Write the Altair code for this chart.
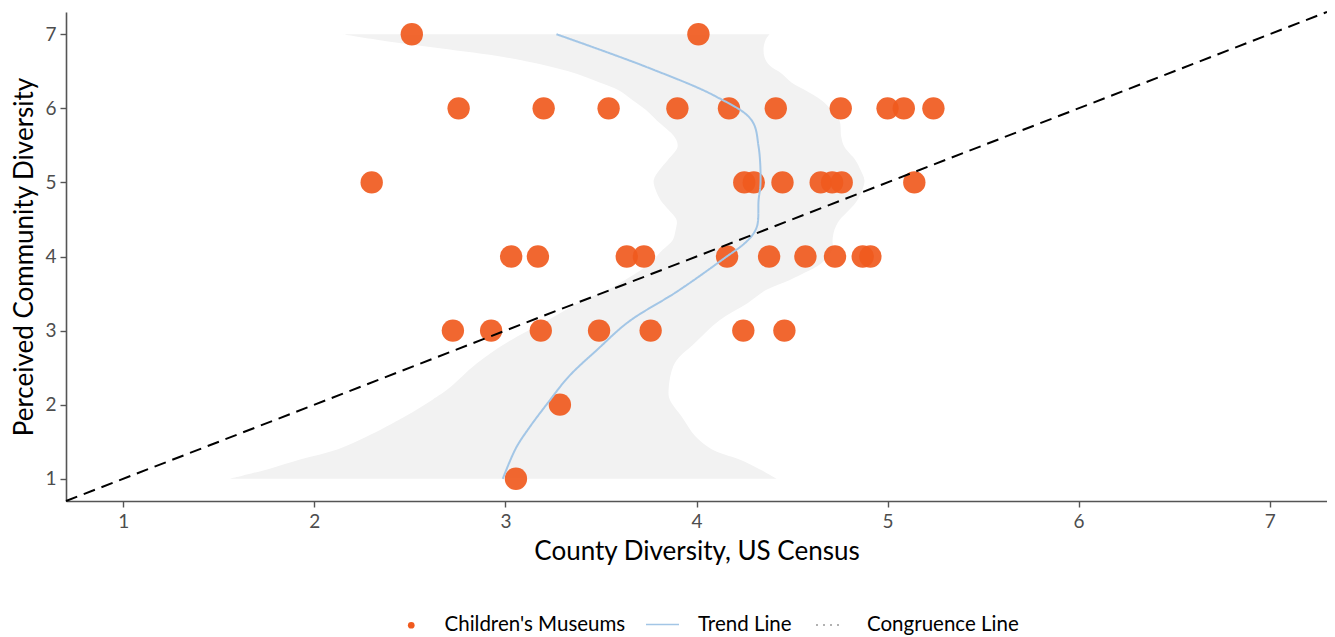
import altair as alt
import pandas as pd

# ---- data ----
pt_x = [2.51, 4.01,
        2.755, 3.20, 3.54, 3.90, 4.17, 4.415, 4.755, 5.00, 5.085, 5.24,
        2.30, 4.25, 4.30, 4.45, 4.65, 4.71, 4.76, 5.14,
        3.03, 3.17, 3.635, 3.725, 4.16, 4.38, 4.57, 4.725, 4.87, 4.91,
        2.725, 2.925, 3.185, 3.49, 3.76, 4.245, 4.46,
        3.285,
        3.055]
pt_y = [7, 7,
        6, 6, 6, 6, 6, 6, 6, 6, 6, 6,
        5, 5, 5, 5, 5, 5, 5, 5,
        4, 4, 4, 4, 4, 4, 4, 4, 4, 4,
        3, 3, 3, 3, 3, 3, 3,
        2,
        1]

trend_x = [3.267, 3.737, 4.105, 4.288, 4.325, 4.335, 4.325, 4.316, 4.270, 4.133,
           3.900, 3.645, 3.479, 3.331, 3.221, 3.129, 3.055, 2.986]
trend_y = [7.000, 6.559, 6.155, 5.841, 5.481, 4.988, 4.762, 4.402, 4.222, 3.953,
           3.530, 3.120, 2.739, 2.379, 2.021, 1.705, 1.414, 1.000]

band_y = [7.00, 6.92, 6.81, 6.69, 6.58, 6.47, 6.35, 6.25, 6.11, 5.98, 5.84, 5.61, 5.48,
          5.30, 5.17, 5.03, 4.90, 4.76, 4.63, 4.49, 4.36, 4.22, 4.09, 3.91, 3.78, 3.68,
          3.55, 3.37, 3.14, 2.83, 2.56, 2.20, 2.07, 1.84, 1.57, 1.40, 1.26, 1.13, 1.00]
band_lo = [2.150, 2.343, 2.657, 2.997, 3.206, 3.368, 3.493, 3.588, 3.666, 3.734, 3.791, 3.886, 3.901,
           3.849, 3.807, 3.776, 3.786, 3.812, 3.854, 3.896, 3.891, 3.875, 3.823, 3.755, 3.687, 3.624,
           3.535, 3.378, 3.222, 3.002, 2.851, 2.694, 2.620, 2.474, 2.275, 2.124, 1.925, 1.758, 1.559]
band_hi = [4.382, 4.361, 4.351, 4.356, 4.382, 4.445, 4.497, 4.565, 4.654, 4.706, 4.748, 4.758, 4.774,
           4.832, 4.858, 4.879, 4.868, 4.842, 4.800, 4.748, 4.722, 4.712, 4.712, 4.654, 4.565, 4.486,
           4.366, 4.267, 4.121, 3.990, 3.886, 3.854, 3.860, 3.922, 3.995, 4.079, 4.225, 4.330, 4.419]

cong_xy = [0.7, 7.3]
ticks = [1, 2, 3, 4, 5, 6, 7]

series = ["Children's Museums", "Trend Line", "Congruence Line"]
ORANGE = "#F05A1E"
BLUE = "#A3C6E6"
GREY = "#999999"
FONT = "Lato"

pts = pd.DataFrame({"x": pt_x, "y": pt_y, "series": series[0]})
trend = pd.DataFrame({"x": trend_x, "y": trend_y, "series": series[1],
                      "o": list(range(len(trend_x)))})
band = pd.DataFrame({"y": band_y, "lo": band_lo, "hi": band_hi})
cong = pd.DataFrame({"x": cong_xy, "y": cong_xy, "series": series[2]})

xs = alt.Scale(domain=[0.7, 7.3], nice=False, zero=False)
ys = alt.Scale(domain=[0.7, 7.3], nice=False, zero=False)

axis_common = dict(grid=False, domainColor="#555555", domainWidth=1.6,
                   tickColor="#555555", tickWidth=1.4, tickSize=6,
                   labelColor="#4D4D4D", labelFont=FONT, labelFontSize=19,
                   titleFont=FONT, titleFontSize=26, titleFontWeight="normal",
                   titleColor="#000000", values=ticks)
xaxis = alt.Axis(title="County Diversity, US Census", labelPadding=5,
                 titlePadding=7, **axis_common)
yaxis = alt.Axis(title="Perceived Community Diversity", labelPadding=4,
                 titlePadding=7, **axis_common)

leg_common = dict(title=None, orient="none", direction="horizontal", padding=0,
                  labelFont=FONT, labelFontSize=20.5, labelColor="#000000", labelLimit=600)

band_layer = alt.Chart(band).mark_area(orient="horizontal", color="#F2F2F2",
                                       interpolate="catmull-rom").encode(
    y=alt.Y("y:Q", scale=ys, axis=yaxis),
    x=alt.X("lo:Q", scale=xs, axis=xaxis),
    x2="hi:Q",
)

pt_layer = alt.Chart(pts).mark_circle(size=500, opacity=0.92).encode(
    x=alt.X("x:Q", scale=xs, axis=xaxis),
    y=alt.Y("y:Q", scale=ys, axis=yaxis),
    color=alt.Color("series:N", scale=alt.Scale(domain=[series[0]], range=[ORANGE]),
                    legend=alt.Legend(legendX=335, legendY=603, symbolType="circle",
                                      symbolSize=45, symbolOpacity=1, labelOffset=23,
                                      **leg_common)),
)

trend_layer = alt.Chart(trend).mark_line(strokeWidth=2, color=BLUE,
                                         interpolate="catmull-rom").encode(
    x=alt.X("x:Q", scale=xs, axis=xaxis),
    y=alt.Y("y:Q", scale=ys, axis=yaxis),
    order="o:Q",
    strokeDash=alt.StrokeDash("series:N", scale=alt.Scale(domain=[series[1]], range=[[1, 0]]),
                              legend=alt.Legend(legendX=579, legendY=595, symbolType="stroke",
                                                symbolSize=1089, symbolStrokeColor=BLUE,
                                                symbolStrokeWidth=1.6, labelOffset=18,
                                                **leg_common)),
)

cong_layer = alt.Chart(cong).mark_line(color="black", strokeDash=[12, 7], strokeWidth=2).encode(
    x=alt.X("x:Q", scale=xs, axis=xaxis),
    y=alt.Y("y:Q", scale=ys, axis=yaxis),
    opacity=alt.Opacity("series:N", scale=alt.Scale(domain=[series[2]], range=[1]),
                        legend=alt.Legend(legendX=749, legendY=598, symbolType="stroke",
                                          symbolSize=784, symbolStrokeColor=GREY,
                                          symbolDash=[2, 5], symbolStrokeWidth=1.6,
                                          labelOffset=22, **leg_common)),
)

chart = alt.layer(band_layer, pt_layer, trend_layer, cong_layer).properties(
    width=1261, height=489,
    autosize=alt.AutoSizeParams(type="none"),
    padding={"left": 58, "top": 4, "right": 0, "bottom": 135},
).configure_view(stroke=None)

chart.save("out.html", embed_options={"renderer": "svg", "actions": False})
